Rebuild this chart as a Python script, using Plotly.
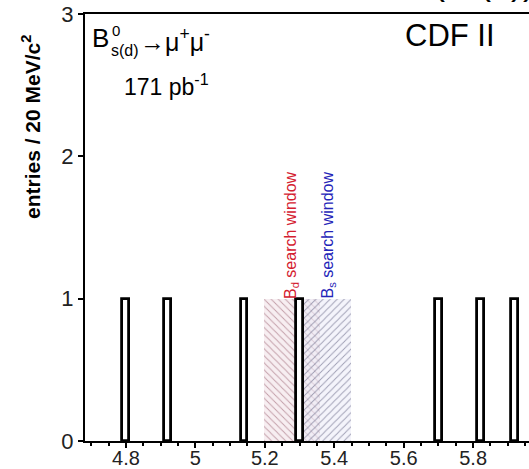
import plotly.graph_objects as go

# dimuon candidates per 20 MeV/c^2 bin (bin centres in GeV/c^2)
bin_centres = [4.80, 4.92, 5.14, 5.30, 5.70, 5.82, 5.92]
bin_counts = [1, 1, 1, 1, 1, 1, 1]
bin_width = 0.02

# search windows (GeV/c^2): low edge, high edge, height
bd_window = [5.199, 5.359]
bs_window = [5.289, 5.449]
window_height = 1

x_range = [4.682, 5.961]
y_range = [0, 3]
x_ticks = [4.8, 5.0, 5.2, 5.4, 5.6, 5.8]
x_ticklabels = ["4.8", "5", "5.2", "5.4", "5.6", "5.8"]
y_ticks = [0, 1, 2, 3]

W, H = 529, 469
ML, MR, MT, MB = 85, 0, 14, 28
PW, PH = W - ML - MR, H - MT - MB


def px(xp):
    return (xp - ML) / PW


def py(yp):
    return (H - MB - yp) / PH


fig = go.Figure()

fig.add_trace(go.Bar(
    x=[(bd_window[0] + bd_window[1]) / 2], y=[window_height],
    width=[bd_window[1] - bd_window[0]],
    marker=dict(color="#f7eef1", line=dict(width=0),
                pattern=dict(shape="\\", fgcolor="#8a4a5a", size=5, solidity=0.18)),
    showlegend=False, hoverinfo="skip"))
fig.add_trace(go.Bar(
    x=[(bs_window[0] + bs_window[1]) / 2], y=[window_height],
    width=[bs_window[1] - bs_window[0]],
    marker=dict(color="rgba(236,236,248,0.6)", line=dict(width=0),
                pattern=dict(shape="/", fgcolor="#45456a", size=5, solidity=0.18)),
    showlegend=False, hoverinfo="skip"))

fig.add_trace(go.Bar(
    x=bin_centres, y=bin_counts, width=[bin_width] * len(bin_centres),
    marker=dict(color="white", line=dict(color="black", width=2.8)),
    showlegend=False))

font = "Arial, Liberation Sans, sans-serif"
ann = []


def label(text, xp, yp, size, xanchor="left", yanchor="middle", color="black",
          angle=0, bold=False):
    ann.append(dict(text=f"<b>{text}</b>" if bold else text,
                    x=px(xp), y=py(yp), xref="paper", yref="paper",
                    xanchor=xanchor, yanchor=yanchor, showarrow=False,
                    borderpad=0, textangle=angle,
                    font=dict(family=font, size=size, color=color)))


label("B", 91, 38, 26)
label("0", 111, 30, 15)
label("s(d)", 110, 51, 16)
label("→μ<sup>+</sup>μ<sup>-</sup>", 139, 40, 25)
label("171 pb<sup>-1</sup>", 123, 85, 23)
label("CDF II", 404, 35, 31)
label("(S,(d))", 432, 3, 36, yanchor="bottom")
label("entries / 20 MeV/c<sup>2</sup>", 31, 127, 21, xanchor="center", angle=-90, bold=True)
label("B<sub>d</sub> search window", 291, 300, 16, xanchor="center", yanchor="bottom",
      color="#d42030", angle=-90)
label("B<sub>s</sub> search window", 328, 300, 16, xanchor="center", yanchor="bottom",
      color="#2424b8", angle=-90)

fig.update_layout(
    width=W, height=H, margin=dict(l=ML, r=MR, t=MT, b=MB, autoexpand=False),
    paper_bgcolor="white", plot_bgcolor="white",
    barmode="overlay", bargap=0,
    annotations=ann,
    xaxis=dict(range=x_range, tickvals=x_ticks, ticktext=x_ticklabels,
               automargin=False, ticklabelstandoff=-7,
               showline=True, linecolor="black", linewidth=2, mirror=True,
               ticks="outside", ticklen=5, tickwidth=2, tickcolor="black",
               minor=dict(dtick=0.05, tick0=4.8, ticks="outside", ticklen=3,
                          tickwidth=1.5, tickcolor="black", showgrid=False),
               showgrid=False, zeroline=False,
               tickfont=dict(family=font, size=20, color="#222")),
    yaxis=dict(range=y_range, tickvals=y_ticks, automargin=False,
               showline=True, linecolor="black", linewidth=2, mirror=False,
               ticks="outside", ticklen=5, tickwidth=2, tickcolor="black",
               showgrid=False, zeroline=False,
               tickfont=dict(family=font, size=22, color="#222")),
)

fig.write_html("out.html")
